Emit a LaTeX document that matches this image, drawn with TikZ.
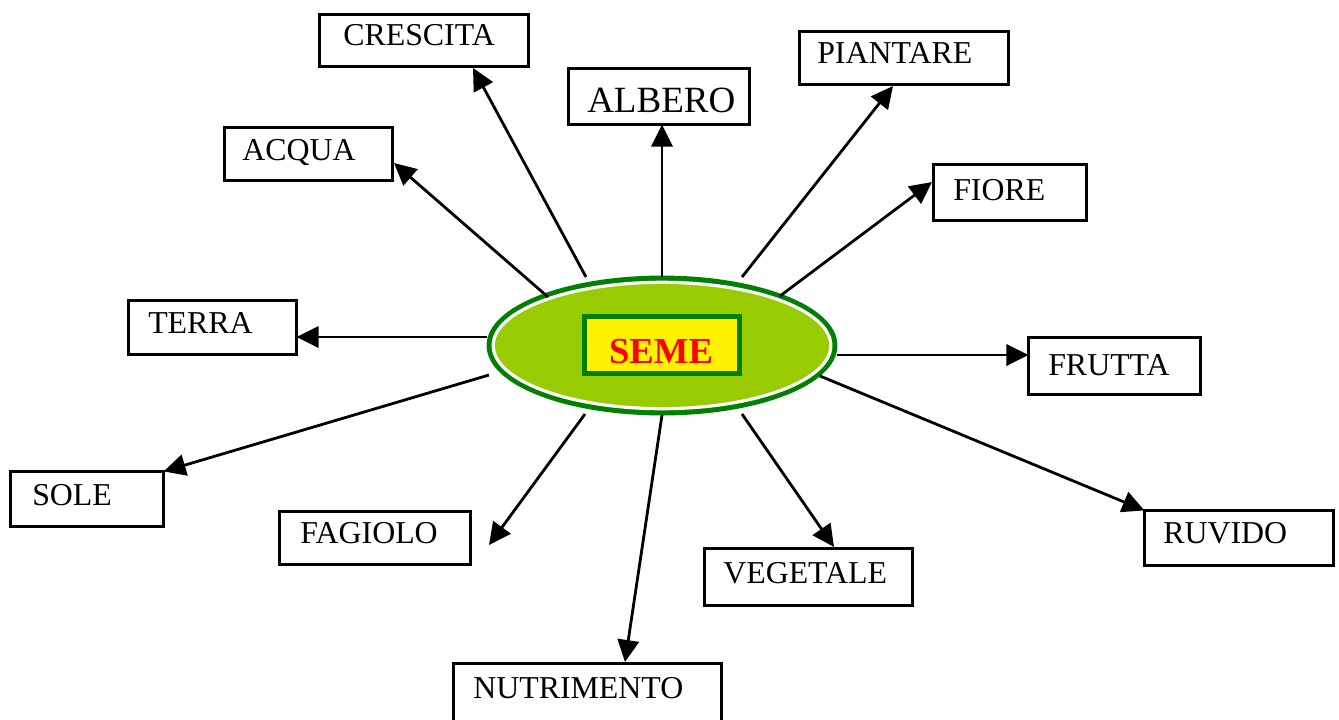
\documentclass[tikz,border=0pt]{standalone}
\usepackage{fontspec}
\setmainfont{Liberation Serif}
\usetikzlibrary{arrows.meta,shapes.geometric}
\definecolor{ringgreen}{HTML}{008000}
\definecolor{seedfill}{HTML}{99CC00}
\tikzset{
  wordbox/.style={draw=black, line width=2.1pt, rectangle, inner sep=0pt, outer sep=0pt},
  word/.style={font=\fontsize{23.9}{28}\selectfont, inner sep=0pt, anchor=base west},
  conn/.style={draw=black, line width=2.1pt, -{Triangle[length=16.5pt,width=16pt]}},
}
\newcommand\mywordbox[8]{%
  \node[wordbox, minimum width={(#4-#2-2.8)*0.75pt}, minimum height={(#5-#3-2.8)*0.75pt}] (#1) at ({(#2+#4)/2},{(#3+#5)/2}) {};
  \node[word] (#1-t) at (#6,#7) {#8};
}
\begin{document}
\begin{tikzpicture}[x=0.75pt,y=-0.75pt]
\clip (0,0) rectangle (1339,719);
\fill[white] (0,0) rectangle (1339,719);

% central seed
\node[ellipse, draw=ringgreen, fill=seedfill, line width=4.4pt,
      minimum width={345*0.75pt}, minimum height={134*0.75pt}, inner sep=0pt] (seme) at (662,345.5) {};
\draw[white, line width=2.4pt] (seme.center) ellipse [x radius=126.6pt, y radius=47.4pt];
\node[rectangle, draw=ringgreen, fill=yellow, line width=3.9pt,
      minimum width={155*0.75pt}, minimum height={57*0.75pt}, inner sep=0pt] (semebox) at (662,345) {};
\node[font=\fontsize{27.5}{32}\selectfont\bfseries, text=red, anchor=base, inner sep=0pt] (semetxt) at (661,363) {SEME};

% word boxes
\mywordbox{crescita}{318}{13}{530}{68}{343}{45}{CRESCITA}
\mywordbox{albero}{567}{67}{751}{126}{587}{112}{\fontsize{27.75}{32}\selectfont ALBERO}
\mywordbox{acqua}{223}{126}{394}{182}{242}{160}{ACQUA}
\mywordbox{piantare}{798}{30}{1010}{86}{817}{63}{PIANTARE}
\mywordbox{fiore}{932}{163}{1088}{222}{953}{200}{FIORE}
\mywordbox{terra}{127}{299}{298}{356}{148}{333}{TERRA}
\mywordbox{frutta}{1027}{336}{1202}{396}{1048}{375}{FRUTTA}
\mywordbox{sole}{9}{470}{165}{528}{32}{505}{SOLE}
\mywordbox{fagiolo}{278}{510}{472}{566}{300}{543}{FAGIOLO}
\mywordbox{ruvido}{1143}{509}{1335}{567}{1163}{543}{RUVIDO}
\mywordbox{vegetale}{703}{547}{914}{607}{723}{583}{VEGETALE}
\mywordbox{nutrimento}{452}{662}{723}{740}{473}{698}{NUTRIMENTO}

% connector ends
\coordinate (terra-s) at (487,337);
\coordinate (acqua-s) at (548,297);
\coordinate (crescita-s) at (586,277);
\coordinate (albero-s) at (662,277);
\coordinate (piantare-s) at (742,277);
\coordinate (fiore-s) at (780,296);
\coordinate (frutta-s) at (837,355);
\coordinate (ruvido-s) at (820,376);
\coordinate (vegetale-s) at (742,414);
\coordinate (nutrimento-s) at (662,415);
\coordinate (fagiolo-s) at (585,414);
\coordinate (sole-s) at (489,375);

\coordinate (crescita-tip) at (473,68);
\coordinate (acqua-tip) at (394,163);
\coordinate (piantare-tip) at (893,86);
\coordinate (fiore-tip) at (932,182);
\coordinate (vegetale-tip) at (834,547);
\coordinate (nutrimento-tip) at (625,662);
\coordinate (fagiolo-tip) at (489,545);

% connectors
\draw[conn] (terra-s) -- (terra.east |- terra-s);
\draw[conn] (acqua-s) -- (acqua-tip);
\draw[conn] (crescita-s) -- (crescita-tip);
\draw[conn] (albero-s) -- (albero-s |- albero.south);
\draw[conn] (piantare-s) -- (piantare-tip);
\draw[conn] (fiore-s) -- (fiore-tip);
\draw[conn] (frutta-s) -- (frutta.west |- frutta-s);
\draw[conn] (ruvido-s) -- (ruvido.north west);
\draw[conn] (vegetale-s) -- (vegetale-tip);
\draw[conn] (nutrimento-s) -- (nutrimento-tip);
\draw[conn] (fagiolo-s) -- (fagiolo-tip);
\draw[conn] (sole-s) -- (sole.north east);
\end{tikzpicture}
\end{document}
